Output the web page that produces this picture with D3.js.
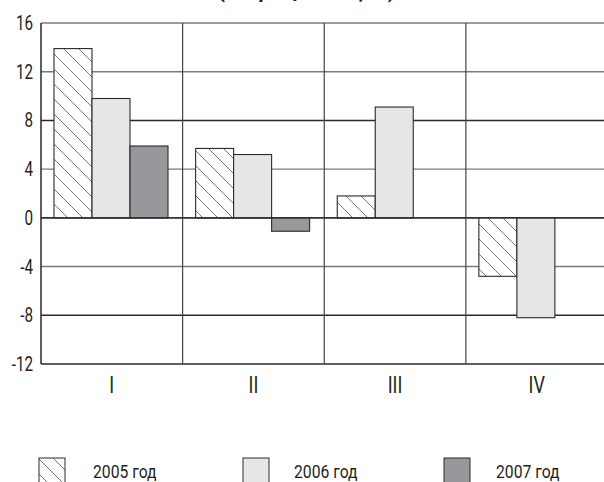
<!DOCTYPE html>
<html><head><meta charset="utf-8">
<script src="https://cdn.jsdelivr.net/npm/d3@7"></script>
<style>
html,body{margin:0;padding:0;background:#fff;}
svg{display:block;}
text{font-family:Roboto,"Noto Sans",sans-serif;fill:#231f20;}
</style></head>
<body>
<svg id="c" width="604" height="482"></svg>
<script>
const title = "(в процентах, %)";
const categories = ["I","II","III","IV"];
const seriesNames = ["2005 год","2006 год","2007 год"];
const values2005 = [13.9, 5.7, 1.8, -4.8];
const values2006 = [9.8, 5.2, 9.1, -8.2];
const values2007 = [5.9, -1.1, null, null];
const yTicks = [16, 12, 8, 4, 0, -4, -8, -12];

(function(){
const series = [values2005, values2006, values2007];
const svg = d3.select("#c");
const W = 604, H = 482;
const pLeft = 41, pRight = 607.5, pTop = 23, pBottom = 364;

const defs = svg.append("defs");
const pat = defs.append("pattern").attr("id","hatch").attr("patternUnits","userSpaceOnUse")
  .attr("width",15).attr("height",15);
pat.append("rect").attr("width",15).attr("height",15).attr("fill","#fff");
pat.append("path").attr("d","M0,0 L15,15 M-15,0 L0,15 M0,-15 L15,0 M15,0 L30,15 M0,15 L15,30")
  .attr("stroke","#555").attr("stroke-width",0.8);

const fills = ["url(#hatch)","#e5e6e8","#97989b"];

const x = d3.scaleBand().domain(categories).range([pLeft, pRight]).paddingInner(0).paddingOuter(0);
const xs = d3.scaleBand().domain(d3.range(series.length)).range([13, 127]).padding(0);
const y = d3.scaleLinear().domain([-12, 16]).range([pBottom, pTop]);

function ntext(sel, tx, ty, sx, size, anchor, str){
  return sel.append("text").attr("transform", `translate(${tx},${ty}) scale(${sx},1)`)
    .attr("text-anchor", anchor).style("font-size", size + "px").text(str);
}

// title (cut off at top, as in the source)
svg.append("text").attr("transform","translate(307,-2.5) scale(1.05,1)").attr("text-anchor","middle")
  .style("font-weight","bold").style("font-size","20px").attr("letter-spacing", 1).text(title);

// horizontal grid
const g = svg.append("g");
yTicks.forEach((t,i) => {
  g.append("line").attr("x1", pLeft).attr("x2", W).attr("y1", y(t)).attr("y2", y(t))
    .attr("stroke", (t===0||t===-12||t===8||t===-8) ? "#2a2a2a" : "#7a7a7a")
    .attr("stroke-width", 1.4);
});
// vertical dividers
categories.forEach((c,i) => {
  const xx = x(c);
  g.append("line").attr("x1", xx).attr("x2", xx).attr("y1", pTop).attr("y2", pBottom)
    .attr("stroke", i===0 ? "#2a2a2a" : "#444").attr("stroke-width", i===0 ? 1.5 : 1.2);
});

// y labels
const yl = svg.append("g");
yTicks.forEach(t => ntext(yl, 33, y(t) + 7, 0.78, 19.5, "end", t));

// bars
const bars = svg.append("g");
categories.forEach((c,ci) => {
  series.forEach((s,si) => {
    const v = s[ci];
    if (v === null || v === undefined) return;
    const x0 = x(c) + xs(si);
    bars.append("rect").attr("x", x0).attr("width", xs.bandwidth())
      .attr("y", y(Math.max(0,v))).attr("height", Math.abs(y(v)-y(0)))
      .attr("fill", fills[si]).attr("stroke","#2a2a2a").attr("stroke-width",1.1);
  });
});
// redraw zero line on top
svg.append("line").attr("x1", pLeft).attr("x2", W).attr("y1", y(0)).attr("y2", y(0))
  .attr("stroke","#2a2a2a").attr("stroke-width",1.4);

// category labels
const cl = svg.append("g");
categories.forEach(c => ntext(cl, x(c) + x.bandwidth()/2, 393, 0.75, 24, "middle", c));

// legend
const legBox = [39, 243, 444];
const legTxt = [93, 294, 496];
seriesNames.forEach((n,i) => {
  svg.append("rect").attr("x", legBox[i]).attr("y", 458).attr("width", 26).attr("height", 40)
    .attr("fill", fills[i]).attr("stroke","#2a2a2a").attr("stroke-width",1);
  ntext(svg, legTxt[i], 478, 0.85, 18.5, "start", n);
});
})();
</script>
</body></html>
